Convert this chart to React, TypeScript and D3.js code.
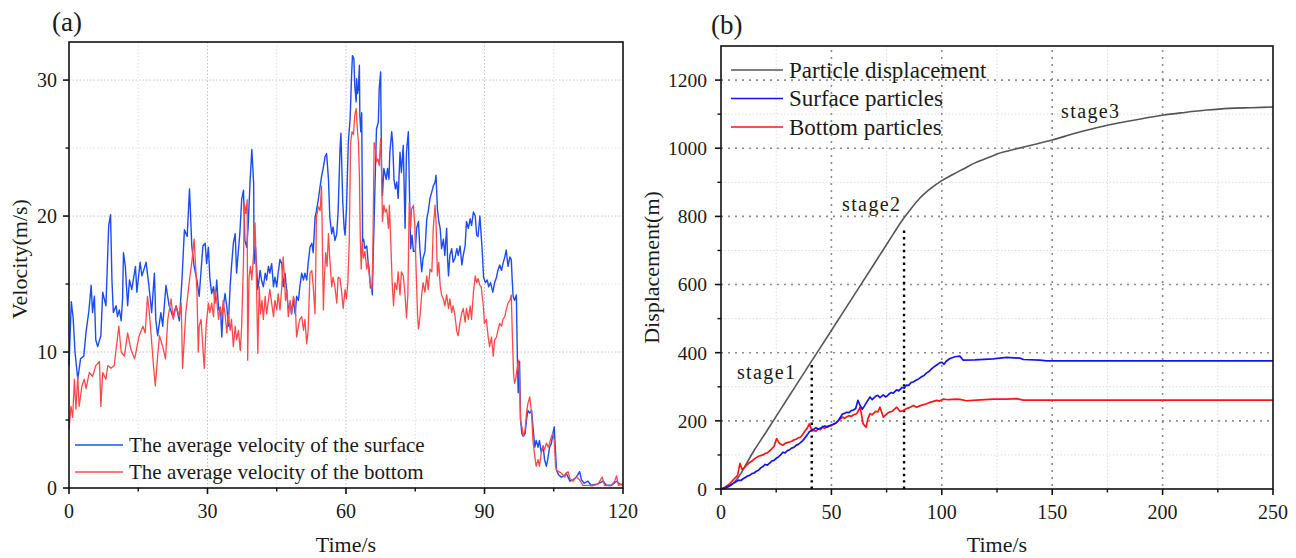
import React from "react";
import * as d3 from "d3";

// ---------- Panel (a): average velocity (t [s], v [m/s]) ----------
const surfaceVelocity: [number, number][] = [
  [0, 9.0], [0.5, 13.7], [0.9, 12.5], [1.3, 10.0], [1.9, 8.0], [2.5, 9.5], [3.2, 9.7], [3.7, 11.5], [4.3, 13.0], [4.8, 14.9],
  [5.1, 12.9], [5.5, 14.1], [5.8, 10.9], [6.2, 10.4], [6.9, 11.2], [7.3, 14.4], [8.0, 13.4], [8.6, 19.3], [9.0, 20.1], [9.3, 15.3],
  [9.6, 12.9], [10.2, 13.4], [10.5, 12.6], [10.9, 13.1], [11.3, 12.3], [11.6, 13.9], [11.8, 17.3], [12.2, 16.3], [12.7, 13.4], [13.1, 15.3],
  [13.6, 14.6], [14.4, 16.3], [14.7, 14.4], [15.4, 16.6], [15.8, 15.6], [16.7, 16.6], [17.3, 14.9], [17.9, 12.9], [18.5, 15.8], [18.8, 12.4],
  [19.2, 11.2], [19.9, 12.9], [20.3, 11.9], [21.0, 14.9], [21.7, 13.4], [22.5, 12.6], [23.2, 13.4], [23.9, 12.3], [24.5, 15.5], [25.0, 19.0],
  [25.6, 18.5], [26.1, 22.0], [26.6, 17.8], [27.1, 16.3], [27.7, 15.3], [28.2, 14.1], [29.0, 17.8], [29.5, 18.0], [29.8, 16.5], [30.2, 17.7],
  [30.5, 15.5], [30.9, 14.3], [31.3, 14.8], [31.6, 13.6], [32.0, 15.3], [32.4, 13.1], [32.8, 13.3], [33.1, 11.1], [33.4, 13.3], [33.8, 14.3],
  [34.2, 13.3], [34.5, 11.9], [34.9, 14.8], [35.2, 16.3], [35.6, 18.0], [36.0, 18.7], [36.3, 15.8], [36.7, 17.5], [37.0, 18.7], [37.4, 21.2],
  [37.8, 21.9], [38.1, 18.2], [38.5, 17.7], [38.8, 19.2], [39.2, 22.4], [39.6, 24.9], [40.0, 22.4], [40.1, 16.5], [40.4, 17.7], [40.9, 14.6],
  [41.4, 16.0], [41.7, 15.3], [42.1, 14.8], [42.5, 15.8], [42.8, 15.3], [43.2, 16.3], [43.5, 15.8], [43.9, 16.5], [44.3, 14.8], [44.6, 15.5],
  [45.0, 14.8], [45.3, 15.8], [45.7, 16.8], [46.1, 16.5], [46.4, 14.8], [46.8, 15.8], [47.2, 14.3], [47.5, 13.1], [47.9, 13.6], [48.2, 12.8],
  [48.6, 13.8], [49.0, 12.8], [49.3, 14.1], [49.7, 13.8], [50.0, 14.8], [50.4, 15.8], [50.8, 15.3], [51.1, 15.8], [51.5, 15.3], [51.8, 16.5],
  [52.2, 17.7], [52.6, 18.0], [52.9, 17.3], [53.3, 19.9], [53.6, 20.4], [54.0, 21.2], [54.4, 22.2], [54.7, 22.9], [55.1, 23.6], [55.5, 24.4],
  [55.8, 24.6], [56.2, 22.7], [56.5, 19.9], [56.9, 18.7], [57.2, 19.2], [57.6, 18.2], [58.0, 18.7], [58.3, 20.4], [58.7, 24.9], [58.9, 26.1],
  [59.3, 21.0], [59.6, 19.1], [59.8, 18.6], [60.1, 20.5], [60.5, 25.4], [60.9, 27.2], [61.2, 30.3], [61.4, 31.8], [61.7, 31.6], [61.9, 29.6],
  [62.2, 28.4], [62.3, 30.1], [62.5, 29.0], [62.7, 29.4], [62.9, 31.1], [63.0, 27.4], [63.2, 26.2], [63.4, 27.6], [63.6, 18.1], [63.8, 18.3],
  [64.1, 17.6], [64.5, 17.8], [64.8, 16.6], [65.0, 16.1], [65.3, 14.7], [65.5, 14.9], [65.7, 14.2], [65.9, 17.1], [66.3, 22.5], [66.6, 26.4],
  [67.0, 26.9], [67.2, 29.4], [67.5, 30.6], [67.7, 23.5], [67.9, 21.5], [68.2, 23.5], [68.7, 22.7], [69.0, 23.5], [69.3, 22.7], [69.5, 24.7],
  [69.9, 26.2], [70.1, 25.4], [70.4, 22.7], [70.7, 22.0], [71.0, 22.5], [71.3, 21.3], [71.7, 24.7], [72.0, 23.2], [72.4, 25.2], [72.8, 19.1],
  [73.1, 24.7], [73.5, 26.2], [73.7, 22.5], [74.0, 17.6], [74.3, 18.6], [74.6, 17.4], [75.0, 17.4], [75.3, 19.1], [75.7, 19.6], [76.0, 17.6],
  [76.4, 15.9], [76.7, 16.9], [77.1, 17.4], [77.5, 19.8], [77.8, 20.3], [78.2, 21.3], [78.6, 21.8], [78.9, 22.2], [79.3, 22.5], [79.5, 23.0],
  [79.8, 20.5], [80.1, 19.6], [80.4, 19.1], [80.7, 17.6], [81.1, 18.3], [81.4, 17.1], [81.8, 19.1], [82.0, 16.9], [82.2, 15.6], [82.5, 17.1],
  [82.9, 17.6], [83.2, 16.6], [83.6, 16.9], [84.0, 17.6], [84.3, 17.1], [84.7, 17.8], [85.1, 16.4], [85.4, 17.1], [85.8, 17.8], [86.1, 19.6],
  [86.5, 19.1], [86.9, 19.8], [87.2, 19.3], [87.6, 20.3], [88.0, 20.0], [88.3, 18.6], [88.6, 18.5], [89.0, 20.0], [89.2, 19.0], [89.5, 17.5],
  [89.8, 15.5], [90.2, 15.1], [90.6, 15.3], [90.9, 14.8], [91.3, 15.1], [91.8, 14.4], [92.2, 15.1], [92.6, 15.5], [92.9, 16.0], [93.3, 16.4],
  [93.7, 16.0], [94.0, 16.5], [94.4, 17.0], [94.7, 17.5], [95.1, 16.3], [95.5, 17.0], [95.8, 16.8], [96.0, 15.3], [96.2, 14.1], [96.5, 13.8],
  [96.9, 14.2], [97.1, 9.9], [97.3, 7.0], [97.6, 9.3], [97.8, 5.0], [98.1, 4.0], [98.4, 3.8], [98.8, 4.0], [99.1, 5.0], [99.4, 5.7],
  [99.8, 5.5], [100.2, 5.7], [100.5, 4.5], [100.9, 3.0], [101.2, 3.5], [101.6, 3.0], [101.9, 3.5], [102.3, 2.6], [102.7, 3.1], [103.0, 2.1],
  [103.4, 1.6], [103.7, 2.1], [104.1, 3.0], [104.5, 3.3], [104.8, 4.0], [105.1, 4.5], [105.4, 2.6], [105.6, 1.3], [106.1, 0.95], [106.6, 0.8],
  [107.2, 0.85], [107.7, 1.1], [108.1, 0.8], [108.5, 0.5], [109.2, 0.6], [109.9, 0.8], [110.6, 1.2], [111.0, 0.6], [111.6, 0.35], [112.4, 0.5],
  [113.1, 0.2], [114.5, 0.3], [115.7, 0.5], [116.4, 0.2], [117.5, 0.2], [118.6, 0.5], [119.3, 0.3], [120, 0.2],
];

const bottomVelocity: [number, number][] = [
  [0, 4.3], [0.43, 6.0], [0.8, 5.2], [1.16, 8.0], [1.5, 5.8], [1.9, 8.2], [2.2, 6.0], [2.8, 7.5], [3.3, 8.0], [3.7, 7.3],
  [4.4, 8.5], [5.1, 8.2], [5.8, 9.0], [6.6, 9.3], [6.9, 6.0], [7.3, 8.5], [8.0, 8.0], [8.4, 9.0], [9.1, 8.8], [9.8, 9.0],
  [10.2, 10.2], [10.8, 11.9], [11.3, 10.0], [12.0, 9.7], [12.7, 11.4], [13.4, 10.2], [14.2, 9.5], [14.5, 10.0], [15.2, 11.2], [16.0, 11.9],
  [16.5, 11.4], [17.0, 14.1], [17.4, 12.9], [17.8, 11.2], [18.3, 9.0], [18.7, 7.5], [19.2, 9.7], [19.6, 11.2], [20.3, 10.4], [20.9, 9.5],
  [21.4, 12.4], [22.1, 13.9], [22.6, 12.4], [23.2, 13.4], [23.9, 12.6], [24.3, 13.6], [24.6, 8.8], [25.3, 12.9], [26.1, 15.3], [26.6, 16.6],
  [27.1, 18.3], [27.7, 14.6], [28.0, 10.0], [28.2, 11.9], [28.6, 12.4], [29.3, 8.8], [29.7, 11.9], [30.2, 13.6], [30.5, 12.9], [30.9, 13.6],
  [31.3, 12.6], [31.6, 14.6], [32.0, 13.8], [32.4, 12.4], [32.7, 13.3], [33.1, 12.6], [33.4, 13.8], [33.8, 12.8], [34.2, 11.4], [34.5, 12.8],
  [34.9, 11.6], [35.2, 12.4], [35.6, 10.4], [36.0, 11.9], [36.3, 10.9], [36.7, 11.6], [37.1, 10.1], [37.4, 11.9], [37.8, 16.8], [38.0, 20.9],
  [38.3, 20.2], [38.6, 21.2], [38.7, 9.4], [39.0, 15.5], [39.3, 16.3], [39.6, 15.3], [39.9, 16.8], [40.3, 19.5], [40.5, 17.0], [40.9, 9.9],
  [41.2, 14.8], [41.5, 12.8], [41.8, 13.8], [42.1, 12.4], [42.5, 14.1], [42.8, 12.8], [43.2, 13.8], [43.5, 14.6], [43.9, 13.6], [44.3, 12.6],
  [44.6, 13.8], [45.0, 13.1], [45.3, 14.3], [45.7, 13.1], [46.1, 14.8], [46.4, 17.0], [46.6, 15.8], [46.9, 13.8], [47.2, 14.6], [47.5, 12.6],
  [47.9, 13.8], [48.2, 12.8], [48.6, 14.1], [49.0, 13.6], [49.3, 11.1], [49.7, 11.9], [50.0, 12.4], [50.4, 12.6], [50.8, 11.6], [51.1, 12.4],
  [51.5, 10.6], [51.8, 11.6], [52.2, 15.8], [52.6, 16.0], [52.9, 14.8], [53.3, 12.8], [53.6, 19.9], [54.0, 20.7], [54.4, 20.4], [54.7, 22.2],
  [55.1, 13.1], [55.3, 15.3], [55.6, 17.3], [55.9, 16.3], [56.2, 18.7], [56.5, 16.8], [56.9, 14.8], [57.2, 15.5], [57.6, 14.8], [58.0, 13.6],
  [58.3, 15.5], [58.7, 15.4], [59.0, 14.6], [59.4, 13.2], [59.8, 14.6], [60.1, 13.9], [60.4, 15.1], [60.7, 18.1], [61.0, 25.4], [61.3, 26.2],
  [61.6, 26.0], [61.9, 27.4], [62.2, 27.9], [62.5, 26.2], [62.7, 25.4], [62.9, 23.0], [63.1, 18.3], [63.3, 16.1], [63.5, 18.1], [63.8, 16.9],
  [64.1, 17.4], [64.5, 16.1], [64.8, 16.6], [65.2, 15.1], [65.6, 14.6], [65.8, 16.9], [66.1, 25.4], [66.4, 24.9], [66.6, 24.0], [66.9, 24.2],
  [67.2, 23.7], [67.5, 25.7], [67.7, 23.5], [67.9, 19.6], [68.2, 20.8], [68.5, 20.3], [68.8, 20.5], [69.2, 19.1], [69.4, 20.8], [69.7, 18.1],
  [70.0, 15.1], [70.3, 13.4], [70.6, 15.1], [71.0, 14.6], [71.3, 15.9], [71.7, 14.2], [72.0, 15.9], [72.4, 15.6], [72.8, 14.2], [73.1, 12.5],
  [73.4, 14.2], [73.7, 21.0], [74.0, 19.1], [74.2, 20.5], [74.6, 20.8], [74.9, 19.3], [75.2, 15.9], [75.5, 12.7], [75.7, 11.7], [76.0, 12.5],
  [76.4, 14.2], [76.7, 15.1], [77.1, 14.4], [77.5, 15.6], [77.8, 14.6], [78.2, 16.1], [78.6, 15.9], [78.9, 19.1], [79.3, 20.8], [79.5, 19.6],
  [79.8, 15.6], [80.1, 16.6], [80.4, 14.9], [80.7, 14.2], [81.1, 13.9], [81.4, 13.4], [81.8, 14.2], [82.2, 13.2], [82.5, 13.9], [82.9, 12.9],
  [83.2, 13.4], [83.6, 12.7], [84.0, 11.5], [84.3, 11.2], [84.7, 12.2], [85.1, 12.9], [85.4, 13.2], [85.8, 12.2], [86.1, 13.2], [86.5, 12.4],
  [86.9, 13.4], [87.2, 12.4], [87.6, 14.4], [88.0, 15.6], [88.3, 15.1], [88.6, 15.4], [89.0, 14.9], [89.3, 14.8], [89.5, 14.1], [89.7, 13.6],
  [90.0, 12.1], [90.4, 12.4], [90.8, 11.1], [91.1, 10.4], [91.5, 11.1], [91.9, 9.7], [92.2, 10.9], [92.6, 11.1], [92.9, 11.6], [93.3, 12.1],
  [93.7, 11.9], [94.0, 12.4], [94.4, 12.6], [94.7, 13.1], [95.1, 13.6], [95.5, 13.8], [95.8, 14.2], [96.0, 11.6], [96.3, 8.4], [96.5, 7.7],
  [96.8, 8.1], [97.1, 8.9], [97.4, 9.4], [97.6, 7.9], [97.8, 5.0], [98.1, 4.5], [98.4, 3.8], [98.8, 4.3], [99.1, 5.5], [99.4, 6.2],
  [99.8, 6.7], [100.2, 5.5], [100.5, 3.5], [100.9, 2.3], [101.2, 1.6], [101.6, 2.1], [101.9, 1.6], [102.3, 2.6], [102.7, 3.1], [103.0, 2.8],
  [103.4, 3.3], [103.8, 3.0], [104.1, 3.3], [104.5, 3.8], [104.8, 4.0], [105.1, 3.5], [105.4, 1.6], [105.6, 1.3], [106.1, 1.2], [106.6, 1.1],
  [107.4, 0.8], [107.7, 1.1], [108.1, 1.2], [108.5, 0.7], [109.2, 0.5], [109.9, 0.8], [110.6, 0.6], [111.3, 0.2], [112.3, 0.2], [113.4, 0.15],
  [114.6, 0.3], [115.5, 0.8], [116.0, 0.2], [117.3, 0.15], [118.2, 0.5], [118.6, 0.9], [119.0, 0.2], [120, 0.3],
];

// ---------- Panel (b): displacement (t [s], d [m]) ----------
const particleDisplacement: [number, number][] = [
  [0, 0], [3, 5], [6, 20], [9, 45], [12, 80], [15, 113], [20, 163], [30, 264], [40, 365], [50, 465],
  [60, 566], [70, 667], [78, 748], [82, 788], [86, 822], [90, 853], [95, 882], [100, 905], [105, 923], [110, 940],
  [115, 957], [120, 970], [124, 980], [125, 983], [130, 992], [140, 1008], [150, 1024], [160, 1043], [170, 1060], [180, 1074],
  [190, 1086], [200, 1097], [210, 1105], [220, 1112], [230, 1117], [240, 1119], [250, 1121],
];

const surfaceDisplacement: [number, number][] = [
  [0, 0], [2, 4], [4, 10], [6, 18], [7, 22], [8, 26], [9, 25], [10, 30], [11, 34], [12, 38],
  [13, 40], [14, 45], [15, 47], [16, 52], [17, 55], [18, 62], [19, 66], [20, 72], [21, 70], [22, 76],
  [23, 82], [24, 84], [25, 90], [26, 94], [27, 100], [28, 108], [29, 106], [30, 112], [31, 115], [32, 120],
  [33, 122], [34, 128], [35, 131], [36, 136], [37, 142], [38, 150], [39, 158], [40, 168], [41, 172], [42, 175],
  [43, 180], [44, 176], [45, 178], [46, 183], [47, 185], [48, 181], [49, 184], [50, 188], [51, 190], [52, 194],
  [53, 200], [54, 210], [55, 220], [56, 222], [57, 225], [58, 224], [59, 230], [60, 232], [61, 236], [62, 260],
  [63, 245], [64, 234], [65, 244], [66, 255], [67.5, 270], [68.5, 262], [69, 266], [70, 272], [71, 275], [72, 268],
  [73.5, 276], [74.5, 270], [75, 272], [76, 278], [77, 283], [78, 281], [79.5, 291], [80.5, 288], [82, 298], [83, 296],
  [84, 305], [85, 304], [86, 312], [87, 314], [88.5, 320], [89.5, 323], [91, 330], [92, 333], [93, 340], [94, 344],
  [95, 350], [96, 356], [97.7, 364], [99, 370], [100, 372], [101, 366], [102, 375], [103.7, 383], [106, 388], [108.2, 390],
  [109.7, 378], [115, 379], [123.3, 382], [129.4, 386], [135.4, 384], [137, 380], [144.5, 378], [147.5, 376], [250, 376],
];

const bottomDisplacement: [number, number][] = [
  [0, 0], [2, 6], [4, 16], [6, 30], [7.5, 40], [8.6, 75], [9.5, 58], [10.5, 62], [11, 66], [12, 72],
  [13, 78], [14, 82], [15, 88], [16, 92], [17, 96], [18, 98], [19, 100], [20, 104], [21, 106], [22, 112],
  [23, 118], [24, 125], [25.2, 148], [26, 138], [26.7, 133], [28, 128], [29, 134], [30, 136], [31, 138], [32, 140],
  [33, 144], [34, 146], [35, 150], [36, 152], [37, 160], [38, 170], [39, 178], [40, 191], [40.8, 178], [41.8, 172],
  [43, 170], [44, 176], [45, 174], [46, 181], [47, 178], [48, 184], [49, 186], [50, 186], [51, 191], [52, 193],
  [53, 200], [54, 205], [55, 211], [56, 208], [57, 212], [58, 215], [59, 213], [60, 218], [61.5, 221], [63, 240],
  [64.4, 191], [65.7, 181], [66.5, 205], [67.5, 221], [68.5, 218], [70, 228], [71, 226], [72, 240], [73.5, 211], [75, 220],
  [76, 225], [77.5, 228], [79.6, 240], [81, 228], [82.6, 230], [84, 236], [85, 238], [87.1, 245], [88.6, 240], [90, 244],
  [91, 246], [93.1, 250], [95, 255], [97.7, 260], [99, 258], [100.7, 264], [103, 262], [106.7, 264], [108.2, 263], [111.2, 259],
  [115.8, 261], [123.3, 264], [129.4, 264], [133.9, 265], [136.9, 261], [250, 261],
];

// stage markers: time and height of the dotted line, labels
const stageLines: [number, number][] = [[41.1, 364], [82.9, 762]];
const stageLabels: { text: string; t: number; d: number }[] = [
  { text: "stage1", t: 7.2, d: 322 },
  { text: "stage2", t: 54.8, d: 815 },
  { text: "stage3", t: 154, d: 1090 },
];

const legendA = ["The average velocity of the surface", "The average velocity of the bottom"];
const legendB = ["Particle displacement", "Surface particles", "Bottom particles"];

const xTicksA = [0, 30, 60, 90, 120];
const xMinorA = [15, 45, 75, 105];
const yTicksA = [0, 10, 20, 30];
const yMinorA = [5, 15, 25];
const xTicksB = [0, 50, 100, 150, 200, 250];
const xMinorB = [25, 75, 125, 175, 225];
const yTicksB = [0, 200, 400, 600, 800, 1000, 1200];
const yMinorB = [100, 300, 500, 700, 900, 1100];

const FONT = "'Liberation Serif', 'Times New Roman', serif";
const TXT = "#1a1a1a";

export default function App() {
  // panel a geometry
  const a = { l: 69, r: 623, t: 42, b: 488 };
  const xa = d3.scaleLinear().domain([0, 120]).range([a.l, a.r]);
  const ya = d3.scaleLinear().domain([0, 32.8]).range([a.b, a.t]);
  // panel b geometry
  const b = { l: 721, r: 1273, t: 46, b: 489 };
  const xb = d3.scaleLinear().domain([0, 250]).range([b.l, b.r]);
  const yb = d3.scaleLinear().domain([0, 1300]).range([b.b, b.t]);

  const lineA = d3.line<[number, number]>().x((d) => xa(d[0])).y((d) => ya(d[1]));
  const lineB = d3.line<[number, number]>().x((d) => xb(d[0])).y((d) => yb(d[1]));
  const smoothB = d3.line<[number, number]>().x((d) => xb(d[0])).y((d) => yb(d[1])).curve(d3.curveMonotoneX);

  const blueA = "#1a4cf0";
  const redA = "#ff4848";
  const blueB = "#1414f0";
  const redB = "#ff1414";
  const grayB = "#555555";

  return (
    <svg width={1296} height={558} style={{ position: "absolute", left: 0, top: 0, background: "#fff" }} fontFamily={FONT}>
      <rect x={0} y={0} width={1296} height={558} fill="#fff" />
      {/* ===== Panel (a) ===== */}
      <g>
        {xMinorA.map((v) => (
          <line key={"axm" + v} x1={xa(v)} x2={xa(v)} y1={a.t} y2={a.b} stroke="#e0e0e0" strokeWidth={1} strokeDasharray="1.5,2" />
        ))}
        {yMinorA.map((v) => (
          <line key={"aym" + v} x1={a.l} x2={a.r} y1={ya(v)} y2={ya(v)} stroke="#e0e0e0" strokeWidth={1} strokeDasharray="1.5,2" />
        ))}
        {xTicksA.slice(1, -1).map((v) => (
          <line key={"axg" + v} x1={xa(v)} x2={xa(v)} y1={a.t} y2={a.b} stroke="#c4c4c4" strokeWidth={1} strokeDasharray="1.5,2" />
        ))}
        {yTicksA.slice(1).map((v) => (
          <line key={"ayg" + v} x1={a.l} x2={a.r} y1={ya(v)} y2={ya(v)} stroke="#c4c4c4" strokeWidth={1} strokeDasharray="1.5,2" />
        ))}
        <path d={lineA(surfaceVelocity) || ""} fill="none" stroke={blueA} strokeWidth={1.4} strokeLinejoin="round" />
        <path d={lineA(bottomVelocity) || ""} fill="none" stroke={redA} strokeWidth={1.3} strokeLinejoin="round" />
        <rect x={a.l} y={a.t} width={a.r - a.l} height={a.b - a.t} fill="none" stroke="#111" strokeWidth={1.6} />
        {xTicksA.map((v) => (
          <g key={"axt" + v}>
            <line x1={xa(v)} x2={xa(v)} y1={a.b} y2={a.b + 6} stroke="#111" strokeWidth={1.6} />
            <text x={xa(v)} y={518} fontSize={20} textAnchor="middle" fill={TXT}>{v}</text>
          </g>
        ))}
        {xMinorA.map((v) => (
          <line key={"axmt" + v} x1={xa(v)} x2={xa(v)} y1={a.b} y2={a.b + 3.5} stroke="#111" strokeWidth={1.4} />
        ))}
        {yTicksA.map((v) => (
          <g key={"ayt" + v}>
            <line x1={a.l} x2={a.l - 6} y1={ya(v)} y2={ya(v)} stroke="#111" strokeWidth={1.6} />
            <text x={57} y={ya(v)} dy="0.35em" fontSize={20} textAnchor="end" fill={TXT}>{v}</text>
          </g>
        ))}
        {yMinorA.map((v) => (
          <line key={"aymt" + v} x1={a.l} x2={a.l - 3.5} y1={ya(v)} y2={ya(v)} stroke="#111" strokeWidth={1.4} />
        ))}
        <text x={(a.l + a.r) / 2} y={552} fontSize={22} textAnchor="middle" fill={TXT}>Time/s</text>
        <text transform={`translate(27,${(a.t + a.b) / 2 - 6}) rotate(-90)`} fontSize={22} textAnchor="middle" fill={TXT}>Velocity(m/s)</text>
        <text x={52} y={31} fontSize={27} fill={TXT}>(a)</text>
        {legendA.map((s, i) => (
          <g key={"la" + i}>
            <line x1={75} x2={123} y1={445 + i * 27} y2={445 + i * 27} stroke={i === 0 ? blueA : redA} strokeWidth={1.5} />
            <text x={129} y={445 + i * 27} dy="0.33em" fontSize={21} fill={TXT}>{s}</text>
          </g>
        ))}
      </g>

      {/* ===== Panel (b) ===== */}
      <g>
        {xMinorB.map((v) => (
          <line key={"bxm" + v} x1={xb(v)} x2={xb(v)} y1={b.t} y2={b.b} stroke="#dcdcdc" strokeWidth={1} strokeDasharray="1.5,2" />
        ))}
        {yMinorB.map((v) => (
          <line key={"bym" + v} x1={b.l} x2={b.r} y1={yb(v)} y2={yb(v)} stroke="#dcdcdc" strokeWidth={1} strokeDasharray="1.5,2" />
        ))}
        {xTicksB.slice(1, -1).map((v) => (
          <line key={"bxg" + v} x1={xb(v)} x2={xb(v)} y1={b.t + 4} y2={b.b} stroke="#8c8c8c" strokeWidth={1.6} strokeDasharray="2,5" />
        ))}
        {yTicksB.slice(1).map((v) => (
          <line key={"byg" + v} x1={b.l} x2={b.r} y1={yb(v)} y2={yb(v)} stroke="#8c8c8c" strokeWidth={1.6} strokeDasharray="2,5" />
        ))}
        {stageLines.map(([t, h], i) => (
          <line key={"st" + i} x1={xb(t)} x2={xb(t)} y1={yb(0)} y2={yb(h)} stroke="#000" strokeWidth={2.4} strokeDasharray="2.4,4" />
        ))}
        <path d={smoothB(particleDisplacement) || ""} fill="none" stroke={grayB} strokeWidth={1.6} />
        <path d={lineB(bottomDisplacement) || ""} fill="none" stroke={redB} strokeWidth={1.7} strokeLinejoin="round" />
        <path d={lineB(surfaceDisplacement) || ""} fill="none" stroke={blueB} strokeWidth={1.7} strokeLinejoin="round" />
        <rect x={b.l} y={b.t} width={b.r - b.l} height={b.b - b.t} fill="none" stroke="#111" strokeWidth={1.6} />
        {xTicksB.map((v) => (
          <g key={"bxt" + v}>
            <line x1={xb(v)} x2={xb(v)} y1={b.b} y2={b.b + 6} stroke="#111" strokeWidth={1.6} />
            <text x={xb(v)} y={519} fontSize={20} textAnchor="middle" fill={TXT}>{v}</text>
          </g>
        ))}
        {xMinorB.map((v) => (
          <line key={"bxmt" + v} x1={xb(v)} x2={xb(v)} y1={b.b} y2={b.b + 3.5} stroke="#111" strokeWidth={1.4} />
        ))}
        {yTicksB.map((v) => (
          <g key={"byt" + v}>
            <line x1={b.l} x2={b.l - 6} y1={yb(v)} y2={yb(v)} stroke="#111" strokeWidth={1.6} />
            <text x={707} y={yb(v)} dy="0.35em" fontSize={19.5} textAnchor="end" fill={TXT}>{v}</text>
          </g>
        ))}
        {yMinorB.map((v) => (
          <line key={"bymt" + v} x1={b.l} x2={b.l - 3.5} y1={yb(v)} y2={yb(v)} stroke="#111" strokeWidth={1.4} />
        ))}
        {stageLabels.map((s) => (
          <text key={s.text} x={xb(s.t)} y={yb(s.d)} fontSize={20} letterSpacing={1.4} fill={TXT}>{s.text}</text>
        ))}
        <text x={(b.l + b.r) / 2} y={552} fontSize={22} textAnchor="middle" fill={TXT}>Time/s</text>
        <text transform={`translate(659,${(b.t + b.b) / 2}) rotate(-90)`} fontSize={22} textAnchor="middle" fill={TXT}>Displacement(m)</text>
        <text x={711} y={34} fontSize={27} fill={TXT}>(b)</text>
        {legendB.map((s, i) => (
          <g key={"lb" + i}>
            <line x1={731} x2={783} y1={70 + i * 28.5} y2={70 + i * 28.5} stroke={[grayB, blueB, redB][i]} strokeWidth={1.6} />
            <text x={789} y={70 + i * 28.5} dy="0.33em" fontSize={23} fill={TXT}>{s}</text>
          </g>
        ))}
      </g>
    </svg>
  );
}
